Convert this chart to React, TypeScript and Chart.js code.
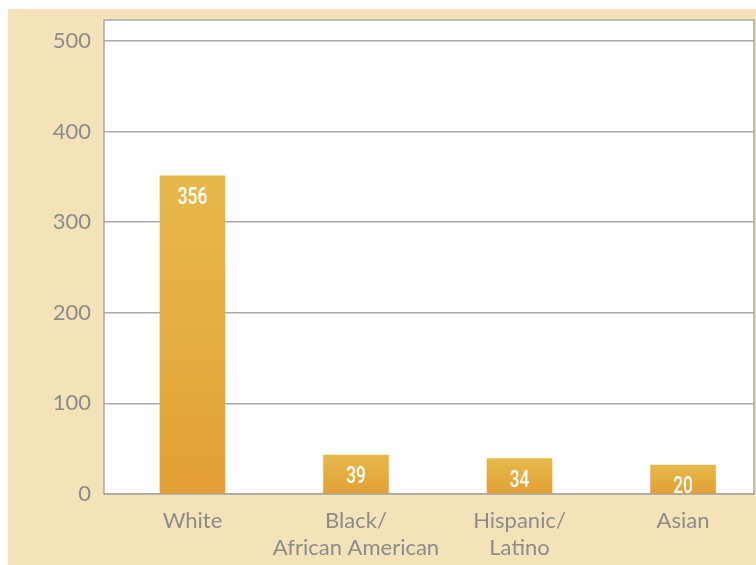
import { useEffect, useRef } from "react";
import { Chart, registerables } from "chart.js";

Chart.register(...registerables);

const categories: string[][] = [["White"], ["Black/", "African American"], ["Hispanic/", "Latino"], ["Asian"]];
// bar heights as drawn in the picture
const barHeights = [351, 43, 39, 32];
// numbers printed on the bars
const valueLabels = ["356", "39", "34", "20"];
const yTickValues = [0, 100, 200, 300, 400, 500];
const yMax = 523;

const AXIS_FONT = "Lato, 'Open Sans', 'DejaVu Sans', sans-serif";
const GRID = "#a9a9a9";
const TEXT = "#8c8c8c";

const panelPlugin = {
  id: "panel",
  beforeDraw(chart: any) {
    const { ctx, chartArea: a } = chart;
    if (!a) return;
    ctx.save();
    ctx.fillStyle = "#ffffff";
    ctx.fillRect(a.left, a.top, a.right - a.left, a.bottom - a.top);
    ctx.restore();
  },
  beforeDatasetsDraw(chart: any) {
    const { ctx, chartArea: a } = chart;
    ctx.save();
    ctx.strokeStyle = GRID;
    ctx.lineWidth = 1.5;
    ctx.strokeRect(a.left, a.top, a.right - a.left, a.bottom - a.top);
    ctx.restore();
  },
  afterDatasetsDraw(chart: any) {
    const { ctx } = chart;
    const meta = chart.getDatasetMeta(0);
    ctx.save();
    ctx.fillStyle = "#ffffff";
    ctx.font = "500 24px Roboto, 'DejaVu Sans', sans-serif";
    ctx.textAlign = "center";
    ctx.textBaseline = "middle";
    meta.data.forEach((el: any, i: number) => {
      ctx.save();
      ctx.translate(el.x, el.y + 22);
      ctx.scale(0.72, 1);
      ctx.fillText(valueLabels[i], 0, 0);
      ctx.restore();
    });
    ctx.restore();
  },
};

export default function App() {
  const ref = useRef<HTMLCanvasElement | null>(null);

  useEffect(() => {
    if (!ref.current) return;
    const chart = new Chart(ref.current, {
      type: "bar",
      data: {
        datasets: [
          {
            data: barHeights.map((v, i) => ({ x: i, y: v })),
            barThickness: 65,
            borderWidth: 0,
            backgroundColor: (c: any) => {
              const ch = c.chart;
              const ys = ch.scales && ch.scales.y;
              if (!ys || !ch.chartArea || c.dataIndex == null) return "#e4ab3f";
              const top = ys.getPixelForValue(barHeights[c.dataIndex]);
              const bot = ys.getPixelForValue(0);
              const g = ch.ctx.createLinearGradient(0, top, 0, bot);
              g.addColorStop(0, "#e7b94c");
              g.addColorStop(1, "#e29f35");
              return g;
            },
          },
        ],
      },
      options: {
        animation: false,
        responsive: true,
        maintainAspectRatio: false,
        devicePixelRatio: 1,
        layout: { padding: { left: 0, top: 11, right: 2, bottom: 0 } },
        plugins: { legend: { display: false }, tooltip: { enabled: false } },
        scales: {
          x: {
            type: "linear",
            offset: false,
            min: -0.541,
            max: 3.434,
            grid: { display: false, offset: false },
            border: { display: false },
            afterBuildTicks: (axis: any) => {
              axis.ticks = categories.map((_, i) => ({ value: i }));
            },
            afterFit: (s: any) => {
              s.height = 71;
              s.paddingLeft = 0;
              s.paddingRight = 0;
              s.paddingTop = 0;
              s.paddingBottom = 0;
            },
            ticks: {
              autoSkip: false,
              maxRotation: 0,
              padding: 6,
              color: TEXT,
              font: { family: AXIS_FONT, size: 22, lineHeight: 1.21 },
              callback: (v: any) => categories[Math.round(v)] ?? "",
            },
          },
          y: {
            type: "linear",
            min: 0,
            max: yMax,
            grid: { color: GRID, lineWidth: 1.5, drawTicks: false },
            border: { display: false },
            afterBuildTicks: (axis: any) => {
              axis.ticks = yTickValues.map((v) => ({ value: v }));
            },
            afterFit: (s: any) => {
              s.width = 96;
              s.paddingTop = 0;
              s.paddingBottom = 0;
              s.paddingLeft = 0;
              s.paddingRight = 0;
            },
            ticks: {
              padding: 13,
              color: TEXT,
              font: { family: AXIS_FONT, size: 22 },
            },
          },
        },
      },
      plugins: [panelPlugin],
    } as any);
    return () => chart.destroy();
  }, []);

  return (
    <div
      style={{
        position: "absolute",
        left: 8,
        top: 9,
        width: 748,
        height: 556,
        background: "#f4e3b9",
      }}
    >
      <canvas ref={ref} />
    </div>
  );
}
